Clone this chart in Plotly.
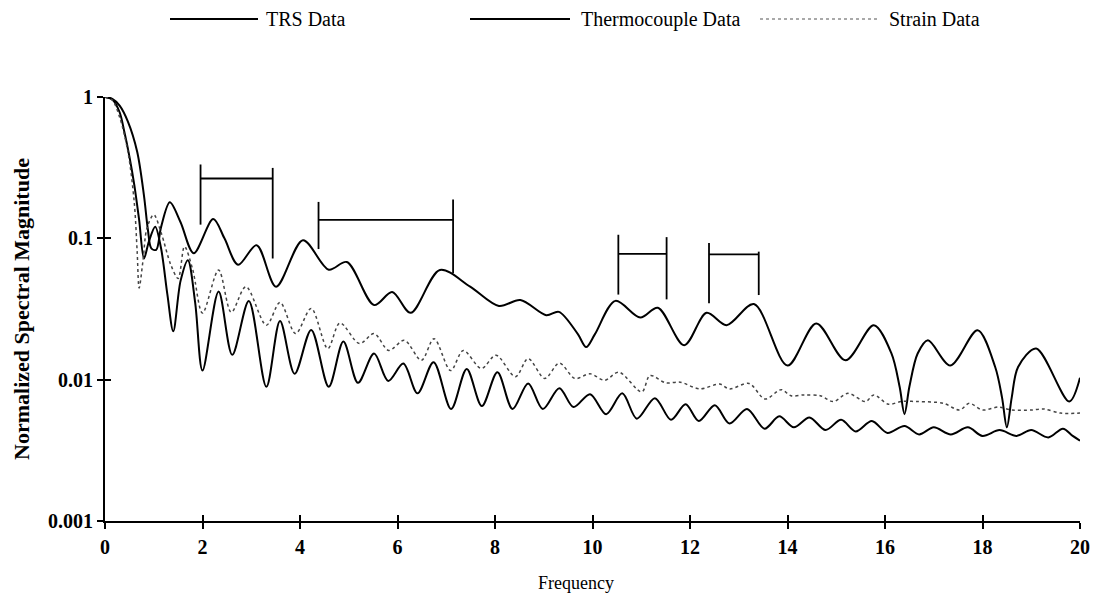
import plotly.graph_objects as go

# ---- data ----
trs_x = [0, 0.15, 0.3, 0.47, 0.66, 0.80, 0.88, 0.95, 1.05, 1.15, 1.33, 1.55, 1.82, 2.22, 2.45, 2.73,
         3.11, 3.51, 4.06, 4.59, 4.96, 5.52, 5.89, 6.27, 6.87, 7.49, 8.08, 8.52, 9.05, 9.31, 9.7,
         9.87, 10.05, 10.47, 10.98, 11.34, 11.88, 12.34, 12.75, 13.31, 14.0, 14.59, 15.19, 15.77,
         16.13, 16.3, 16.4, 16.5, 16.67, 16.88, 17.34, 17.9, 18.26, 18.4, 18.5, 18.6, 18.73, 19.1,
         19.78, 20.0]
trs_y = [1.0, 0.97, 0.87, 0.67, 0.41, 0.20, 0.115, 0.085, 0.083, 0.12, 0.18, 0.13, 0.0785, 0.137,
         0.1, 0.065, 0.0895, 0.0455, 0.097, 0.060, 0.068, 0.0337, 0.0417, 0.0297, 0.0597, 0.0455,
         0.0332, 0.0366, 0.0286, 0.0302, 0.021, 0.017, 0.021, 0.0361, 0.0275, 0.0323, 0.0175, 0.0297,
         0.0243, 0.0343, 0.0126, 0.025, 0.0137, 0.0243, 0.0154, 0.0089, 0.0057, 0.0089, 0.0153, 0.019,
         0.0126, 0.0224, 0.0123, 0.0075, 0.0046, 0.0075, 0.0123, 0.0166, 0.007, 0.0103]

thermo_x = [0, 0.15, 0.3, 0.4, 0.5, 0.6, 0.7, 0.8, 0.9, 1.03, 1.15, 1.28, 1.40, 1.55, 1.70, 1.85,
            2.0, 2.33, 2.61, 2.95, 3.31, 3.59, 3.89, 4.23, 4.59, 4.89, 5.19, 5.52, 5.81, 6.12, 6.41,
            6.74, 7.10, 7.42, 7.73, 8.05, 8.36, 8.68, 8.98, 9.32, 9.61, 9.95, 10.28, 10.61, 10.91,
            11.28, 11.61, 11.91, 12.18, 12.51, 12.81, 13.17, 13.53, 13.83, 14.13, 14.45, 14.78, 15.1,
            15.4, 15.73, 16.05, 16.4, 16.7, 17.0, 17.35, 17.7, 18.0, 18.35, 18.7, 19.0, 19.35, 19.65,
            19.85, 20.0]
thermo_y = [1.0, 0.96, 0.78, 0.56, 0.38, 0.24, 0.135, 0.072, 0.095, 0.121, 0.085, 0.04, 0.022, 0.05,
            0.07, 0.035, 0.0116, 0.042, 0.015, 0.036, 0.0089, 0.026, 0.011, 0.0225, 0.0089, 0.0186,
            0.0095, 0.0153, 0.0098, 0.013, 0.008, 0.0133, 0.0062, 0.0119, 0.0065, 0.0113, 0.0062,
            0.0094, 0.0062, 0.0087, 0.0064, 0.0079, 0.0057, 0.0080, 0.0053, 0.0074, 0.0052, 0.0067,
            0.0051, 0.0066, 0.0049, 0.0062, 0.0045, 0.0055, 0.0046, 0.0054, 0.0044, 0.0052, 0.0043,
            0.0051, 0.0042, 0.0047, 0.0041, 0.0046, 0.0041, 0.0046, 0.0040, 0.0044, 0.0040, 0.0044,
            0.0039, 0.0045, 0.0040, 0.0037]

strain_x = [0, 0.15, 0.3, 0.47, 0.6, 0.66, 0.70, 0.78, 0.86, 1.0, 1.15, 1.35, 1.50, 1.63, 1.8, 2.0,
            2.33, 2.59, 2.89, 3.31, 3.59, 3.91, 4.23, 4.57, 4.82, 5.22, 5.52, 5.82, 6.14, 6.49, 6.75,
            7.09, 7.35, 7.72, 8.02, 8.42, 8.68, 9.02, 9.32, 9.64, 9.95, 10.25, 10.54, 11.01, 11.18,
            11.5, 11.8, 12.2, 12.61, 12.81, 13.21, 13.54, 13.87, 14.07, 14.34, 14.67, 14.94, 15.24,
            15.6, 15.77, 16.07, 16.33, 16.67, 17.2, 17.53, 17.73, 18.0, 18.33, 18.6, 19.0, 19.26,
            19.6, 20.0]
strain_y = [1.0, 0.95, 0.72, 0.41, 0.18, 0.08, 0.0445, 0.07, 0.118, 0.147, 0.11, 0.065, 0.052,
            0.0875, 0.06, 0.0296, 0.0597, 0.030, 0.0455, 0.0243, 0.0352, 0.0212, 0.0319, 0.0166,
            0.0252, 0.018, 0.0212, 0.0161, 0.019, 0.0137, 0.0195, 0.0116, 0.0161, 0.012, 0.0149,
            0.0105, 0.0141, 0.0102, 0.0131, 0.0102, 0.011, 0.0099, 0.0113, 0.0082, 0.0107, 0.0095,
            0.0096, 0.0086, 0.0093, 0.0086, 0.0094, 0.0073, 0.0085, 0.0077, 0.0078, 0.0077, 0.0070,
            0.0080, 0.0070, 0.0078, 0.0067, 0.0070, 0.0070, 0.0068, 0.0061, 0.0068, 0.0061, 0.0064,
            0.0061, 0.0061, 0.0062, 0.0058, 0.0058]

# brackets marking frequency spans: [x_left, x_right], left bar (top,bottom), right bar (top,bottom), bar level
bracket_x = [[1.96, 3.44], [4.38, 7.14], [10.53, 11.52], [12.39, 13.41]]
bracket_left = [[0.333, 0.125], [0.181, 0.084], [0.106, 0.040], [0.0925, 0.0347]]
bracket_right = [[0.315, 0.072], [0.188, 0.0566], [0.102, 0.037], [0.0805, 0.0397]]
bracket_level = [0.265, 0.135, 0.0776, 0.077]

x_ticks = [0, 2, 4, 6, 8, 10, 12, 14, 16, 18, 20]
y_ticks = [0.001, 0.01, 0.1, 1]
y_tick_text = ["0.001", "0.01", "0.1", "1"]

series_names = ["TRS Data", "Thermocouple Data", "Strain Data"]

FONT = "Liberation Serif"

fig = go.Figure()
fig.add_trace(go.Scatter(x=trs_x, y=trs_y, mode="lines", name=series_names[0],
                         line=dict(color="black", width=2, shape="spline", smoothing=0.9)))
fig.add_trace(go.Scatter(x=thermo_x, y=thermo_y, mode="lines", name=series_names[1],
                         line=dict(color="black", width=2, shape="spline", smoothing=0.9)))
fig.add_trace(go.Scatter(x=strain_x, y=strain_y, mode="lines", name=series_names[2],
                         line=dict(color="#444444", width=1.5, dash="dot", shape="spline", smoothing=0.9)))

# brackets
bx, by = [], []
for (xl, xr), (lt, lb), (rt, rb), lev in zip(bracket_x, bracket_left, bracket_right, bracket_level):
    bx += [xl, xl, None, xl, xr, None, xr, xr, None]
    by += [lt, lb, None, lev, lev, None, rt, rb, None]
fig.add_trace(go.Scatter(x=bx, y=by, mode="lines", showlegend=False, hoverinfo="skip",
                         line=dict(color="black", width=1.8)))

# invisible trace on overlay axes (to draw the inner half of the crossing ticks)
fig.add_trace(go.Scatter(x=[None], y=[None], xaxis="x2", yaxis="y2", showlegend=False))

# ---- custom legend at the top (long line samples like the reference) ----
L, R, T, B = 105, 1080, 97, 521
def px_x(p):
    return (p - L) / (R - L)
def px_y(p):
    return (B - p) / (B - T)

legend_items = [(170, 258, 264), (470, 570, 579), (760, 880, 887)]
legend_styles = [dict(color="black", width=1.8), dict(color="black", width=2.2),
                 dict(color="#555555", width=1.2, dash="dot")]
leg_y = 19
for name, (x0, x1, xt), st in zip(series_names, legend_items, legend_styles):
    fig.add_shape(type="line", xref="paper", yref="paper", x0=px_x(x0), x1=px_x(x1),
                  y0=px_y(leg_y), y1=px_y(leg_y), line=st)
    fig.add_annotation(text=name, xref="paper", yref="paper", x=px_x(xt), y=px_y(leg_y),
                       xanchor="left", yanchor="middle", showarrow=False,
                       font=dict(family=FONT, size=20, color="black"))

# x-axis title (sits slightly left of the plot centre in the reference)
fig.add_annotation(text="Frequency", xref="paper", yref="paper", x=px_x(576), y=px_y(583),
                   xanchor="center", yanchor="middle", showarrow=False,
                   font=dict(family=FONT, size=18, color="black"))

axis_common = dict(showgrid=False, zeroline=False, tickcolor="black", tickwidth=1.5)

fig.update_layout(
    width=1120, height=596,
    paper_bgcolor="white", plot_bgcolor="white",
    margin=dict(l=L, r=1120 - R, t=T, b=596 - B),
    showlegend=False,
    font=dict(family=FONT, color="black", size=19),
    xaxis=dict(range=[0, 20], tickvals=x_ticks, ticktext=[str(v) for v in x_ticks],
               ticks="outside", ticklen=6, showline=True, linecolor="black", linewidth=2,
               tickfont=dict(family=FONT, size=20, weight="bold"), ticklabelstandoff=1,
               **axis_common),
    yaxis=dict(type="log", range=[-3, 0], tickvals=y_ticks, ticktext=y_tick_text,
               ticks="outside", ticklen=6, showline=True, linecolor="black", linewidth=2,
               tickfont=dict(family=FONT, size=20, weight="bold"), ticklabelstandoff=0,
               title=dict(text="Normalized Spectral Magnitude",
                          font=dict(family=FONT, size=22, weight="bold"), standoff=12),
               **axis_common),
    xaxis2=dict(range=[0, 20], tickvals=x_ticks, ticks="inside", ticklen=6, showticklabels=False,
                showline=False, overlaying="x", anchor="y2", side="bottom", **axis_common),
    yaxis2=dict(type="log", range=[-3, 0], tickvals=y_ticks, ticks="inside", ticklen=6,
                showticklabels=False, showline=False, overlaying="y", anchor="x2", side="left",
                **axis_common),
)

fig.write_html("out.html", config={"displayModeBar": False},
               post_script="document.body.style.margin='0';document.body.style.overflow='hidden';")
